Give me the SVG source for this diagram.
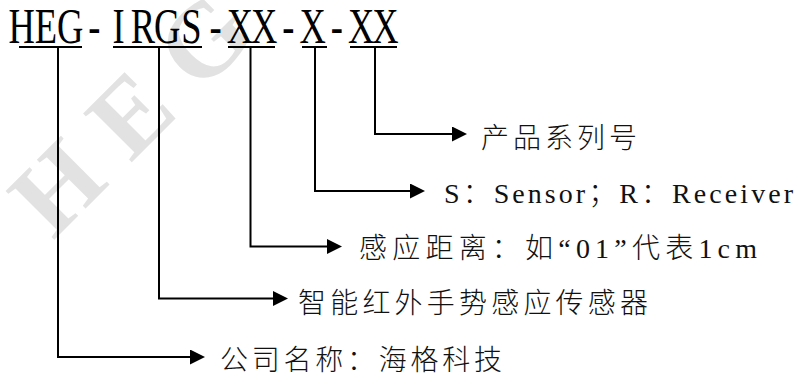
<svg xmlns="http://www.w3.org/2000/svg" width="798" height="376" viewBox="0 0 798 376">
<style>
.wm{font-family:"Liberation Serif",serif;font-weight:bold;font-size:105px;fill:#e2e2e2;letter-spacing:28px}
.title{font-family:"Liberation Serif",serif;font-size:50px;fill:#000}
.ul{stroke:#000;stroke-width:2;fill:none}
.conn path{stroke:#000;stroke-width:2;fill:none;marker-end:url(#arr)}
.lbl{font-family:"Noto Sans CJK SC",sans-serif;font-size:28px;fill:#111;font-weight:300}
.lat{font-family:"Liberation Serif",serif;font-size:28px}
</style>
<defs>
<marker id="arr" markerUnits="userSpaceOnUse" markerWidth="15" markerHeight="15" refX="0" refY="7.5" orient="auto">
<path d="M0,0 L15,7.5 L0,15 z" fill="#000"/>
</marker>
</defs>
<rect width="798" height="376" fill="#fff"/>
<text class="wm" x="53" y="241" transform="rotate(-45 53 241)">HEG</text>
<g id="title">
<text class="title" text-anchor="middle" y="43" transform="scale(0.73 1)" x="29.6 62.9 96.0 129.3 162.5 195.8 228.9 262.2 295.3 328.6 361.8 395.1 428.2 461.5 494.7 527.9">HEG-IRGS-XX-X-XX</text>
<path class="ul" d="M19 47H82M113 47H202M228 47H275M302 47H327M350 47H397"/>
</g>
<g id="connectors" class="conn">
<path d="M58 48V357H190"/>
<path d="M159 48V298.5H273"/>
<path d="M250.5 48V246.5H327"/>
<path d="M315 48V191H410"/>
<path d="M375 48V134H452"/>
</g>
<g id="series"><text class="lbl" x="481" y="148" textLength="156" lengthAdjust="spacing">产品系列号</text></g>
<g id="type"><text class="lbl" x="444" y="203" textLength="349" lengthAdjust="spacing"><tspan class="lat">S</tspan>：<tspan class="lat">Sensor</tspan>；<tspan class="lat">R</tspan>：<tspan class="lat">Receiver</tspan></text></g>
<g id="distance"><text class="lbl" x="359" y="258" textLength="398" lengthAdjust="spacing">感应距离：如<tspan class="lat">“01”</tspan>代表<tspan class="lat">1cm</tspan></text></g>
<g id="product"><text class="lbl" x="298" y="313" textLength="350" lengthAdjust="spacing">智能红外手势感应传感器</text></g>
<g id="company"><text class="lbl" x="220" y="370" textLength="282" lengthAdjust="spacing">公司名称：海格科技</text></g>
</svg>
